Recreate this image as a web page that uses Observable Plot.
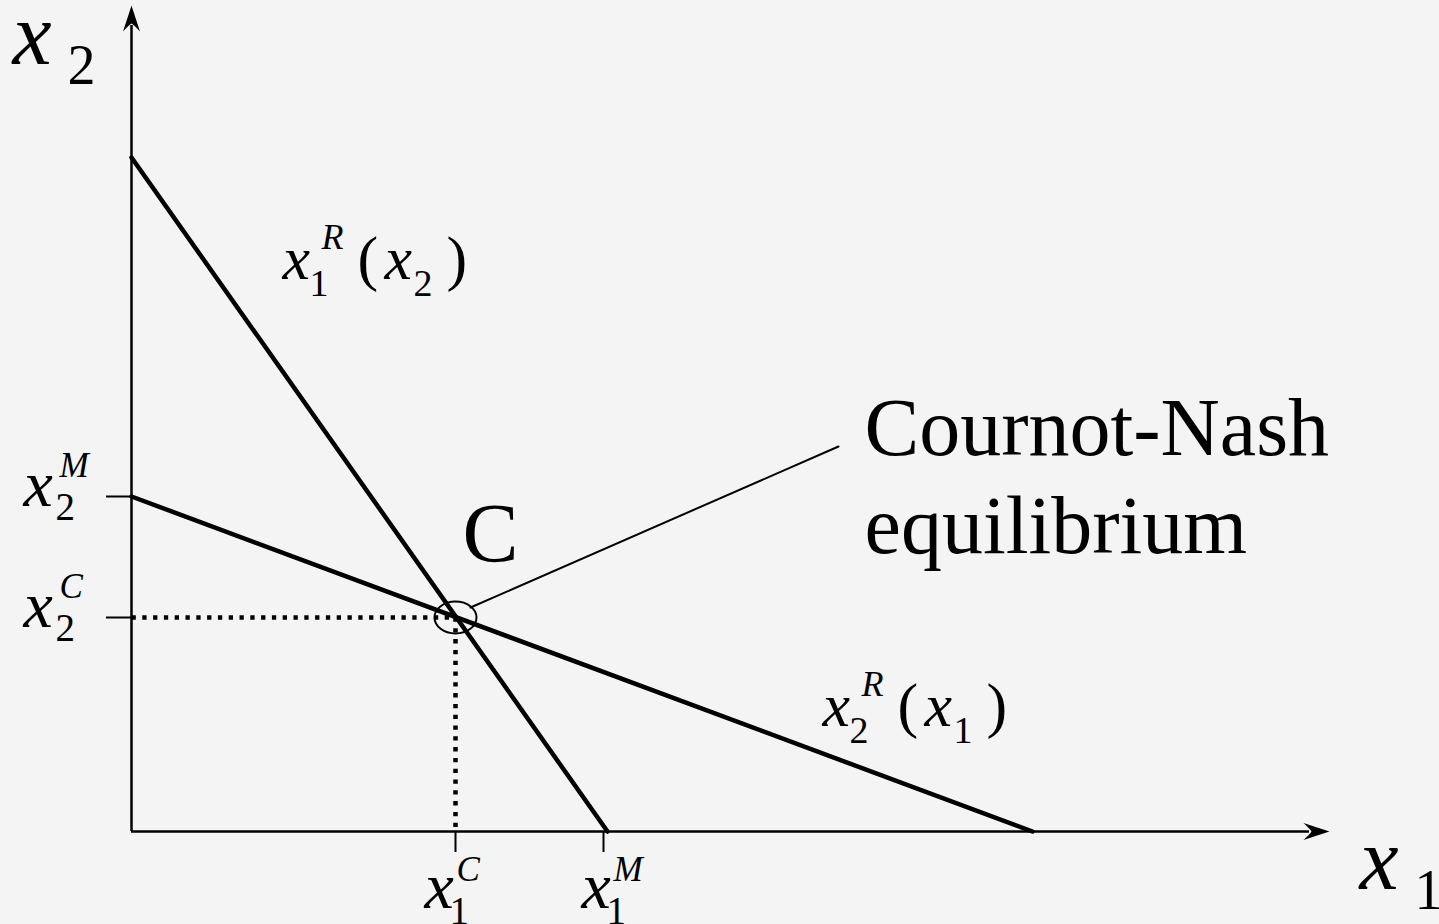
<!DOCTYPE html>
<html><head><meta charset="utf-8">
<script src="https://cdn.jsdelivr.net/npm/d3@7"></script>
<script src="https://cdn.jsdelivr.net/npm/@observablehq/plot@0.6"></script>
<style>
html,body{margin:0;padding:0;background:#f4f4f4;}
#chart{width:1439px;height:924px;overflow:hidden;}
#chart text{font-family:"Liberation Serif","Times New Roman",serif;}
</style>
</head><body><div id="chart"></div>
<script>
// ---------- data (x1 = firm 1 output, x2 = firm 2 output) ----------
const x1C = 3.24, x1M = 4.72, x2C = 2.14, x2M = 3.35;
const reaction1 = [{x1: 0, x2: 6.74}, {x1: 4.76, x2: 0}];   // x1^R(x2)
const reaction2 = [{x1: 0, x2: 3.35}, {x1: 9.01, x2: 0}];   // x2^R(x1)
const equilibrium = [{x1: x1C, x2: x2C}];
const dropLines = [{x1: 0, x2: x2C}, {x1: x1C, x2: x2C}, {x1: x1C, x2: 0}];
const leader = [{x1: 3.39, x2: 2.24}, {x1: 7.07, x2: 3.85}];
const axisEnd = {x1: 11.98, x2: 8.26};
const xTicks = [x1C, x1M];
const yTicks = [x2M, x2C];
const xTickLabels = [{v: x1C, sub: "1", sup: "C"}, {v: x1M, sub: "1", sup: "M"}];
const yTickLabels = [{v: x2M, sub: "2", sup: "M"}, {v: x2C, sub: "2", sup: "C"}];
const curveLabels = [
  {x1: 1.51, x2: 5.53, own: "1", other: "2"},
  {x1: 6.91, x2: 1.06, own: "2", other: "1"}
];
const axisTitles = [{x1: -1.19, x2: 7.68, sub: "2"}, {x1: 12.28, x2: -0.57, sub: "1"}];
const pointLabel = [{x1: 3.31, x2: 2.70, text: "C"}];
const noteLabel = [{x1: 7.33, x2: 2.79, text: "Cournot-Nash\nequilibrium"}];

// ---------- styles ----------
const FONT = "'Liberation Serif', 'Times New Roman', serif";
const arrowRight = {draw(c) {
  c.moveTo(0, 0); c.quadraticCurveTo(-14, -4.5, -26, -8.5); c.quadraticCurveTo(-20, -3, -18, 0);
  c.quadraticCurveTo(-20, 3, -26, 8.5); c.quadraticCurveTo(-14, 4.5, 0, 0); c.closePath();
}};
const arrowUp = {draw(c) {
  c.moveTo(0, 0); c.quadraticCurveTo(-4.5, 14, -8.5, 26); c.quadraticCurveTo(-3, 20, 0, 18);
  c.quadraticCurveTo(3, 20, 8.5, 26); c.quadraticCurveTo(4.5, 14, 0, 0); c.closePath();
}};
const ellipse = {draw(c) {
  const rx = 21, ry = 16, k = 0.5523;
  c.moveTo(rx, 0);
  c.bezierCurveTo(rx, ry * k, rx * k, ry, 0, ry);
  c.bezierCurveTo(-rx * k, ry, -rx, ry * k, -rx, 0);
  c.bezierCurveTo(-rx, -ry * k, -rx * k, -ry, 0, -ry);
  c.bezierCurveTo(rx * k, -ry, rx, -ry * k, rx, 0);
  c.closePath();
}};

function textParts(data, x, y, parts) {
  return parts.map(p => Plot.text(data, {
    x, y, text: p.text, dx: p.dx, dy: p.dy || 0,
    fontSize: p.size, fontStyle: p.italic ? "italic" : "normal",
    fontFamily: FONT, textAnchor: "start", lineAnchor: "bottom", fill: "black"
  }));
}

const yTickParts = [
  {text: () => "x", size: 66, italic: true, dx: -108, dy: 9},
  {text: d => d.sub, size: 39, dx: -76, dy: 23},
  {text: d => d.sup, size: 35, italic: true, dx: -72, dy: -20}
];
const xTickNudge = [-31, -22];
const curveParts = [
  {text: () => "x", size: 62, italic: true, dx: 0},
  {text: d => d.own, size: 38, dx: 27, dy: 17},
  {text: () => "R", size: 36, italic: true, dx: 39, dy: -30},
  {text: () => "(", size: 62, dx: 75},
  {text: () => "x", size: 62, italic: true, dx: 102},
  {text: d => d.other, size: 38, dx: 131, dy: 17},
  {text: () => ")", size: 62, dx: 164}
];
const titleParts = [
  {text: () => "x", size: 88, italic: true, dx: 0},
  {text: d => d.sub, size: 56, dx: 55, dy: 20}
];

const marks = [
  // axes
  Plot.ruleX([0], {y1: 0, y2: axisEnd.x2 - 0.2, stroke: "black", strokeWidth: 2.5}),
  Plot.ruleY([0], {x1: 0, x2: axisEnd.x1 - 0.2, stroke: "black", strokeWidth: 2.5}),
  Plot.dot([axisEnd], {x: () => 0, y: "x2", symbol: arrowUp, fill: "black", stroke: "none"}),
  Plot.dot([axisEnd], {x: "x1", y: () => 0, symbol: arrowRight, fill: "black", stroke: "none"}),
  // ticks
  Plot.ruleX(xTicks, {y1: 0, y2: -0.21, stroke: "black", strokeWidth: 2}),
  Plot.ruleY(yTicks, {x1: -0.25, x2: 0, stroke: "black", strokeWidth: 2}),
  // dotted drop lines
  Plot.line(dropLines, {x: "x1", y: "x2", stroke: "black", strokeWidth: 4.5, strokeDasharray: "4.3,6.5", strokeLinecap: "butt", strokeLinejoin: "miter"}),
  // reaction functions
  Plot.line(reaction1, {x: "x1", y: "x2", stroke: "black", strokeWidth: 4.5}),
  Plot.line(reaction2, {x: "x1", y: "x2", stroke: "black", strokeWidth: 4.5}),
  // leader line & ellipse
  Plot.line(leader, {x: "x1", y: "x2", stroke: "black", strokeWidth: 2}),
  Plot.dot(equilibrium, {x: "x1", y: "x2", symbol: ellipse, fill: "none", stroke: "black", strokeWidth: 2}),
  // labels
  ...textParts(yTickLabels, () => 0, "v", yTickParts),
  ...xTickLabels.flatMap((d, i) => textParts([d], "v", () => 0, [
    {text: () => "x", size: 66, italic: true, dx: xTickNudge[i], dy: 76},
    {text: d => d.sub, size: 39, dx: xTickNudge[i] + 25, dy: 92},
    {text: d => d.sup, size: 35, italic: true, dx: xTickNudge[i] + 32, dy: 49}
  ])),
  ...textParts(curveLabels, "x1", "x2", curveParts),
  ...textParts(axisTitles, "x1", "x2", titleParts),
  Plot.text(pointLabel, {x: "x1", y: "x2", text: "text", fontSize: 84, fontFamily: FONT, textAnchor: "start", lineAnchor: "bottom", fill: "black"}),
  Plot.text(noteLabel, {x: "x1", y: "x2", text: "text", fontSize: 82, lineHeight: 1.195, fontFamily: FONT, textAnchor: "start", lineAnchor: "bottom", fill: "black"})
];

const chart = Plot.plot({
  width: 1439, height: 924,
  margin: 0,
  style: {background: "#f4f4f4", fontFamily: FONT, overflow: "visible"},
  x: {domain: [0, axisEnd.x1], range: [131, 1329], axis: null},
  y: {domain: [0, axisEnd.x2], range: [831, 5], axis: null},
  marks
});
document.getElementById("chart").appendChild(chart);
</script>
</body></html>
